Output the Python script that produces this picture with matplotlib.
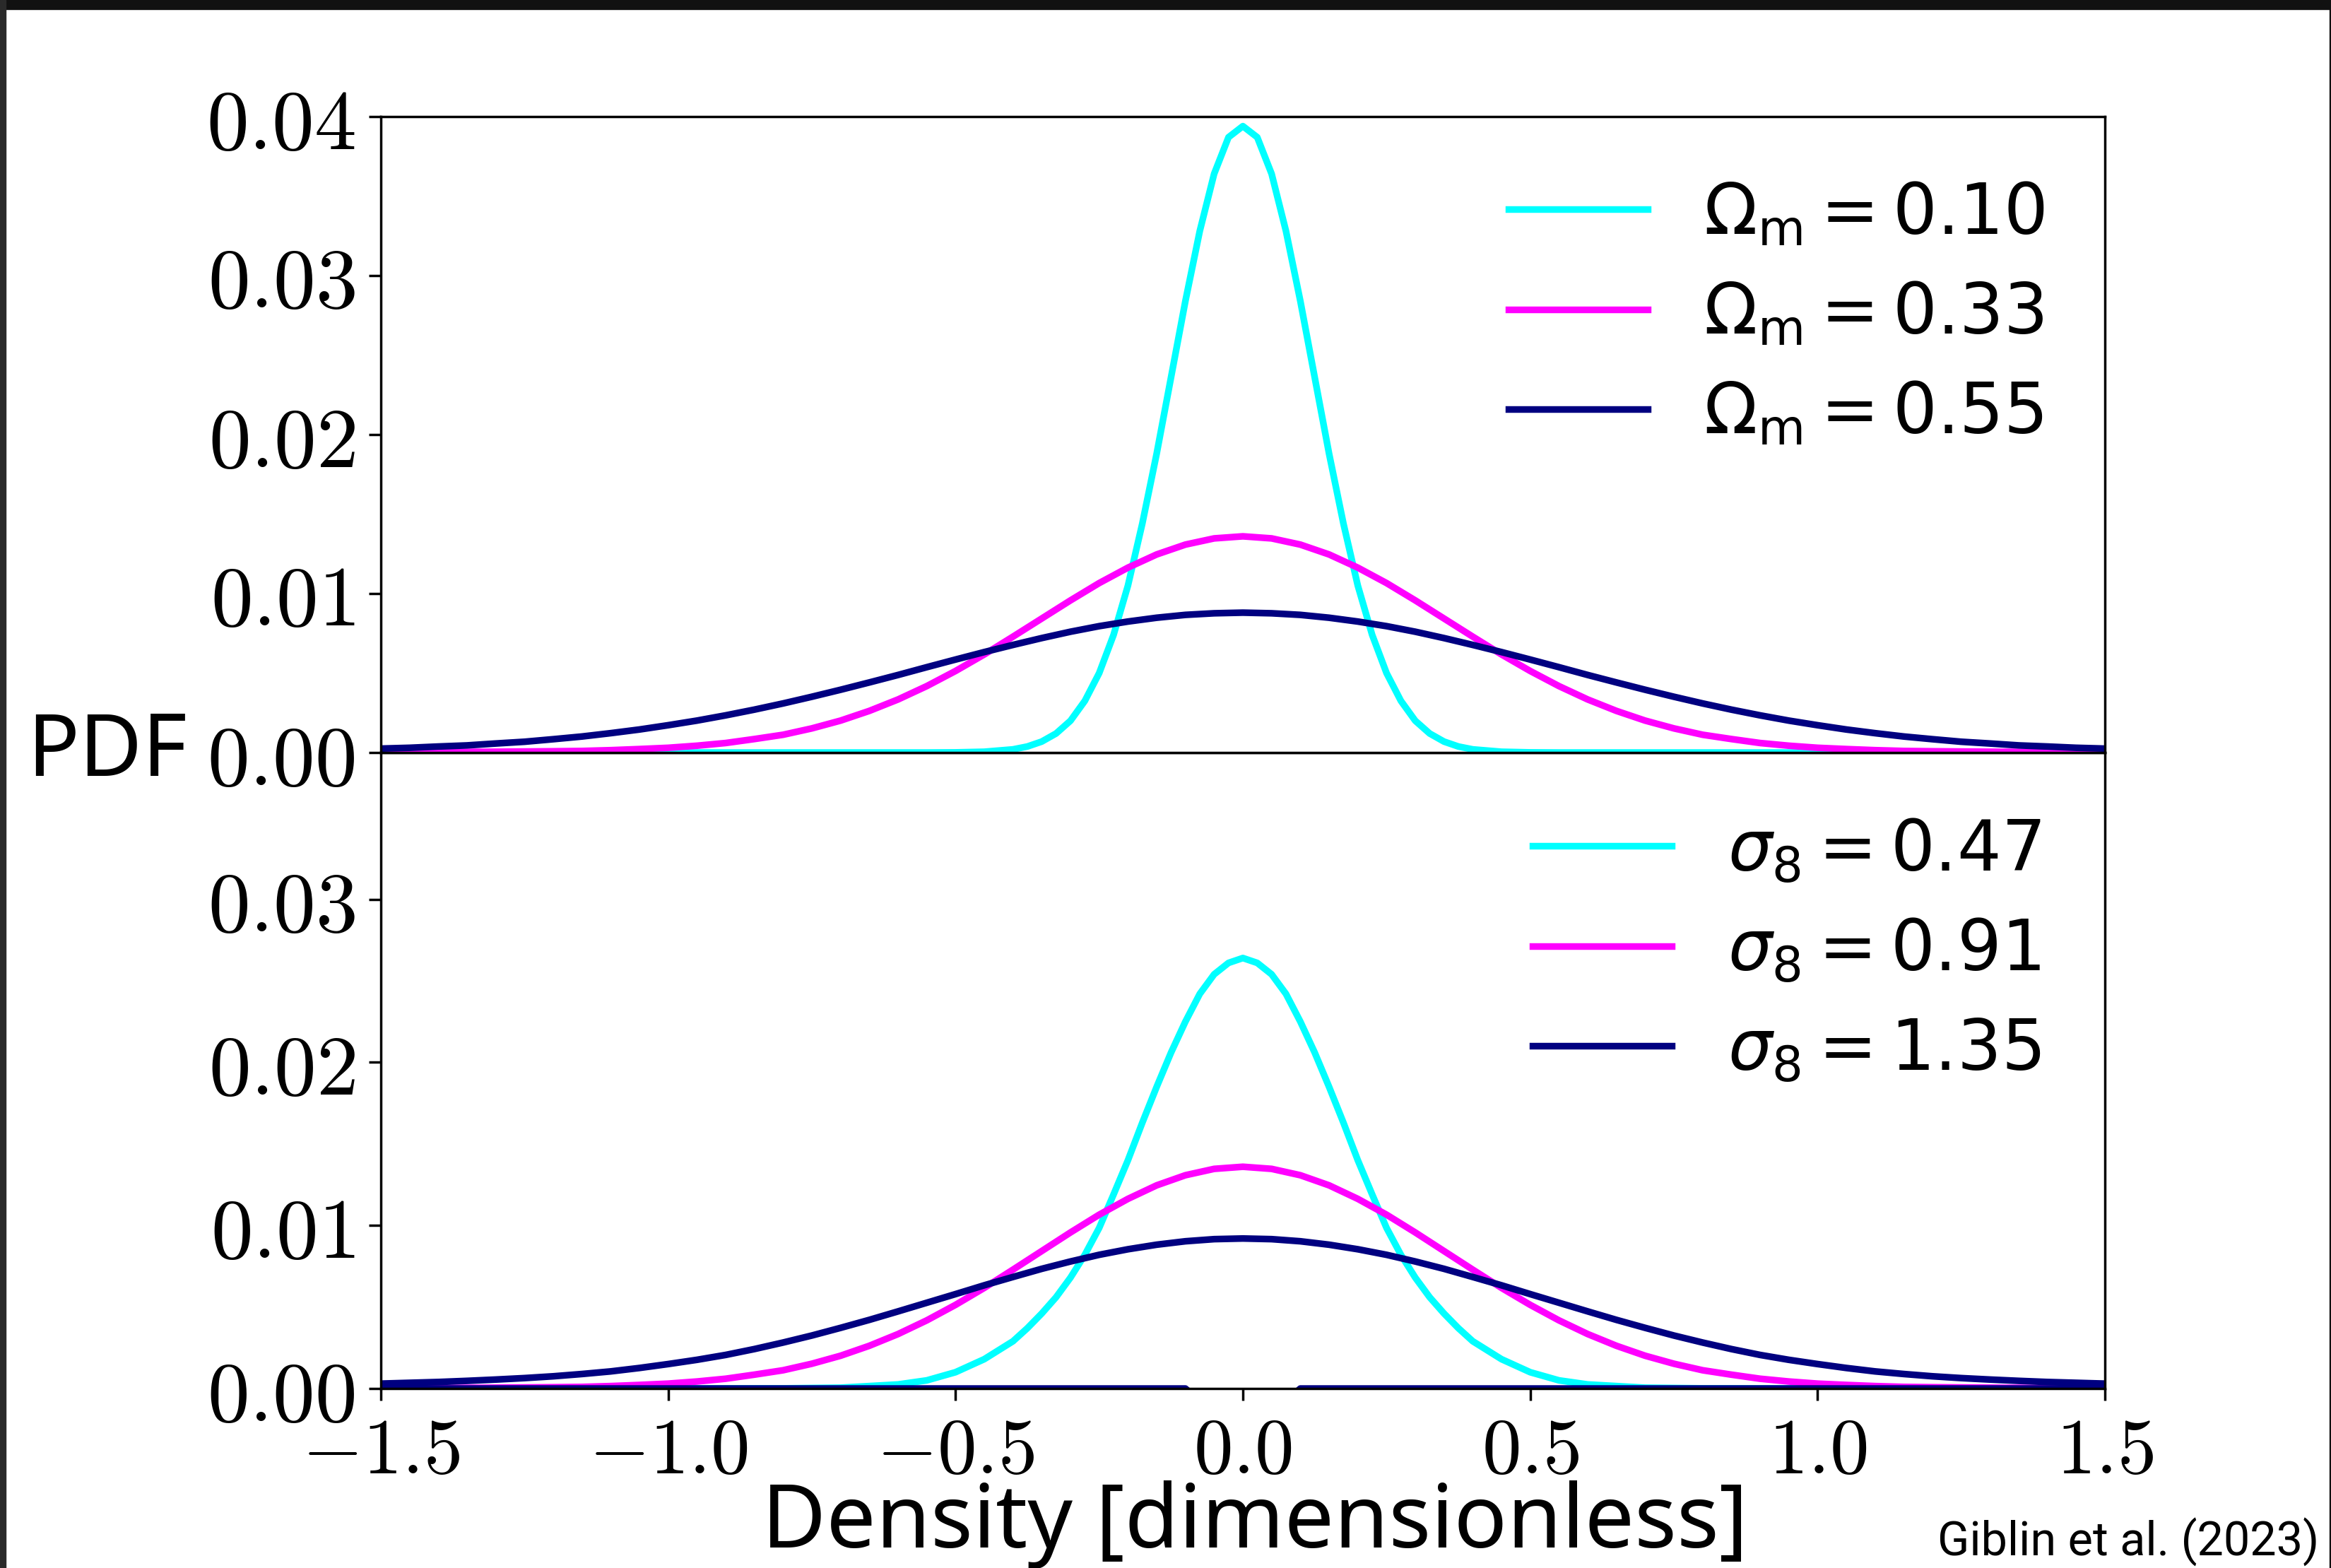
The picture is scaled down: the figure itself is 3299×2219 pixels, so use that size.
import numpy as np
import matplotlib
matplotlib.use("Agg")
import matplotlib.pyplot as plt
from matplotlib.font_manager import FontProperties
from matplotlib.patches import Rectangle

plt.rcParams['mathtext.fontset'] = 'cm'

# density grids
x_narrow = [-1.5, -0.8, -0.7, -0.6, -0.55, -0.5, -0.45,
            -0.4, -0.375, -0.35, -0.325, -0.3, -0.275, -0.25, -0.225, -0.2,
            -0.175, -0.15, -0.125, -0.1, -0.075, -0.05, -0.025, 0.0,
            0.025, 0.05, 0.075, 0.1, 0.125, 0.15, 0.175, 0.2, 0.225, 0.25,
            0.275, 0.3, 0.325, 0.35, 0.375, 0.4,
            0.45, 0.5, 0.55, 0.6, 0.7, 0.8, 1.5]
x_wide = np.round(np.arange(-1.5, 1.501, 0.05), 2)   # 61 samples
x_zero = [-1.5, -0.1, -0.09, 0.09, 0.1, 1.5]

# PDF values, in units of 1e-3
# top panel: Omega_m
om_010 = [0, 0, 0, 0, 0, 0.01, 0.05,
          0.2, 0.38, 0.69, 1.2, 2.0, 3.25, 5.0, 7.4, 10.5,
          14.4, 18.8, 23.6, 28.4, 32.8, 36.4, 38.7, 39.4,
          38.7, 36.4, 32.8, 28.4, 23.6, 18.8, 14.4, 10.5, 7.4, 5.0,
          3.25, 2.0, 1.2, 0.69, 0.38, 0.2,
          0.05, 0.01, 0, 0, 0, 0, 0]
om_033 = [0.02, 0.025, 0.03, 0.04, 0.05, 0.065, 0.08, 0.1, 0.15, 0.22,
          0.3, 0.43, 0.6, 0.85, 1.12, 1.52, 2.01, 2.62, 3.34, 4.18,
          5.13, 6.17, 7.29, 8.43, 9.57, 10.66, 11.63, 12.46, 13.08, 13.47,
          13.6,
          13.47, 13.08, 12.46, 11.63, 10.66, 9.57, 8.43, 7.29, 6.17, 5.13,
          4.18, 3.34, 2.62, 2.01, 1.52, 1.12, 0.85, 0.6, 0.43, 0.3,
          0.22, 0.15, 0.1, 0.08, 0.065, 0.05, 0.04, 0.03, 0.025, 0.02]
om_055 = [0.25, 0.3, 0.38, 0.45, 0.57, 0.68, 0.84, 1.01, 1.22, 1.45,
          1.72, 2.01, 2.34, 2.7, 3.09, 3.51, 3.95, 4.41, 4.88, 5.37,
          5.85, 6.32, 6.77, 7.2, 7.6, 7.95, 8.24, 8.48, 8.66, 8.76,
          8.8,
          8.76, 8.66, 8.48, 8.24, 7.95, 7.6, 7.2, 6.77, 6.32, 5.85,
          5.37, 4.88, 4.41, 3.95, 3.51, 3.09, 2.7, 2.34, 2.01, 1.72,
          1.45, 1.22, 1.01, 0.84, 0.68, 0.57, 0.45, 0.38, 0.3, 0.25]

# bottom panel: sigma_8
s8_047 = [0, 0.01, 0.05, 0.25, 0.5, 1.0, 1.8,
          2.9, 3.7, 4.6, 5.6, 6.8, 8.2, 9.85, 11.9, 14.0,
          16.3, 18.5, 20.6, 22.5, 24.2, 25.4, 26.1, 26.4,
          26.1, 25.4, 24.2, 22.5, 20.6, 18.5, 16.3, 14.0, 11.9, 9.85,
          8.2, 6.8, 5.6, 4.6, 3.7, 2.9,
          1.8, 1.0, 0.5, 0.25, 0.05, 0.01, 0]
s8_091 = [0.02, 0.025, 0.03, 0.04, 0.05, 0.065, 0.08, 0.1, 0.15, 0.22,
          0.3, 0.43, 0.6, 0.85, 1.12, 1.52, 2.01, 2.62, 3.34, 4.18,
          5.13, 6.17, 7.29, 8.43, 9.57, 10.66, 11.63, 12.46, 13.08, 13.47,
          13.6,
          13.47, 13.08, 12.46, 11.63, 10.66, 9.57, 8.43, 7.29, 6.17, 5.13,
          4.18, 3.34, 2.62, 2.01, 1.52, 1.12, 0.85, 0.6, 0.43, 0.3,
          0.22, 0.15, 0.1, 0.08, 0.065, 0.05, 0.04, 0.03, 0.025, 0.02]
s8_135 = [0.3, 0.35, 0.4, 0.47, 0.55, 0.64, 0.75, 0.89, 1.05, 1.26,
          1.5, 1.76, 2.06, 2.42, 2.82, 3.25, 3.72, 4.21, 4.73, 5.26,
          5.79, 6.33, 6.84, 7.34, 7.79, 8.2, 8.54, 8.82, 9.03, 9.16,
          9.2,
          9.16, 9.03, 8.82, 8.54, 8.2, 7.79, 7.34, 6.84, 6.33, 5.79,
          5.26, 4.73, 4.21, 3.72, 3.25, 2.82, 2.42, 2.06, 1.76, 1.5,
          1.26, 1.05, 0.89, 0.75, 0.64, 0.55, 0.47, 0.4, 0.35, 0.3]
zero_line = [0, 0, -0.3, -0.3, 0, 0]

top_labels = [r"$\Omega_{\rm m} = 0.10$", r"$\Omega_{\rm m} = 0.33$", r"$\Omega_{\rm m} = 0.55$"]
bot_labels = [r"$\sigma_8 = 0.47$", r"$\sigma_8 = 0.91$", r"$\sigma_8 = 1.35$"]
colors = ["#00ffff", "#ff00ff", "#000080"]

xticks = [-1.5, -1.0, -0.5, 0.0, 0.5, 1.0, 1.5]
yticks_top = [0.0, 0.01, 0.02, 0.03, 0.04]
yticks_bot = [0.0, 0.01, 0.02, 0.03]

W, H = 3299, 2219
fig = plt.figure(figsize=(W / 100, H / 100), dpi=100)
left = 539 / W
width = (2979 - 539) / W
h = 900 / H
bottom = 1 - 1965 / H
ax_bot = fig.add_axes([left, bottom, width, h])
ax_top = fig.add_axes([left, bottom + h, width, h], sharex=ax_bot)

lw = 6.8
sc = 1e-3
ax_top.plot(x_narrow, np.array(om_010) * sc, color=colors[0], lw=lw, label=top_labels[0])
ax_top.plot(x_wide, np.array(om_033) * sc, color=colors[1], lw=lw, label=top_labels[1])
ax_top.plot(x_wide, np.array(om_055) * sc, color=colors[2], lw=lw, label=top_labels[2])

ax_bot.plot(x_narrow, np.array(s8_047) * sc, color=colors[0], lw=lw, label=bot_labels[0])
ax_bot.plot(x_wide, np.array(s8_091) * sc, color=colors[1], lw=lw, label=bot_labels[1])
ax_bot.plot(x_wide, np.array(s8_135) * sc, color=colors[2], lw=lw, label=bot_labels[2])
ax_bot.plot(x_zero, np.array(zero_line) * sc, color=colors[2], lw=lw)

ax_top.set_xlim(-1.5, 1.5)
ax_top.set_ylim(0, 0.04)
ax_bot.set_ylim(0, 0.039)

ax_bot.set_xticks(xticks)
ax_bot.set_xticklabels(["$%.1f$" % v for v in xticks], fontsize=80)
ax_top.set_yticks(yticks_top)
ax_top.set_yticklabels(["$%.2f$" % v for v in yticks_top], fontsize=86)
ax_bot.set_yticks(yticks_bot)
ax_bot.set_yticklabels(["$%.2f$" % v for v in yticks_bot], fontsize=86)
ax_top.tick_params(axis='x', bottom=False, labelbottom=False)

for ax in (ax_top, ax_bot):
    ax.tick_params(direction='out', length=12, width=2.5, pad=14)
    for sp in ax.spines.values():
        sp.set_linewidth(2.5)

prop = FontProperties(family='DejaVu Sans', size=71, math_fontfamily='dejavusans')
ax_top.legend(loc='upper left', bbox_to_anchor=(2135 / W, 1 - 255 / H),
              bbox_transform=fig.transFigure, frameon=False, prop=prop,
              borderpad=0, borderaxespad=0, handlelength=2.0,
              handletextpad=0.8, labelspacing=0.45)
ax_bot.legend(loc='upper left', bbox_to_anchor=(2169 / W, 1 - 1156 / H),
              bbox_transform=fig.transFigure, frameon=False, prop=prop,
              borderpad=0, borderaxespad=0, handlelength=2.0,
              handletextpad=0.8, labelspacing=0.45)

fig.text(38 / W, 1 - 1098 / H, "PDF", family="Noto Sans", fontsize=88,
         ha="left", va="baseline")
fig.text(1776 / W, 1 - 2190 / H, "Density [dimensionless]", family="Noto Sans",
         fontsize=90, ha="center", va="baseline")
fig.text(3282 / W, 1 - 2202 / H, "Giblin et al. (2023)", family="Roboto",
         fontsize=48, ha="right", va="baseline")

# dark screenshot border
fig.patches.append(Rectangle((0, 1 - 13 / H), 1, 13 / H, transform=fig.transFigure,
                             color="#111111", zorder=10))
fig.patches.append(Rectangle((0, 0), 8 / W, 1, transform=fig.transFigure,
                             color="#2a2a2a", zorder=10))
fig.patches.append(Rectangle((3297 / W, 0), 2 / W, 1, transform=fig.transFigure,
                             color="#111111", zorder=10))

fig.savefig("out.png", dpi=100)
